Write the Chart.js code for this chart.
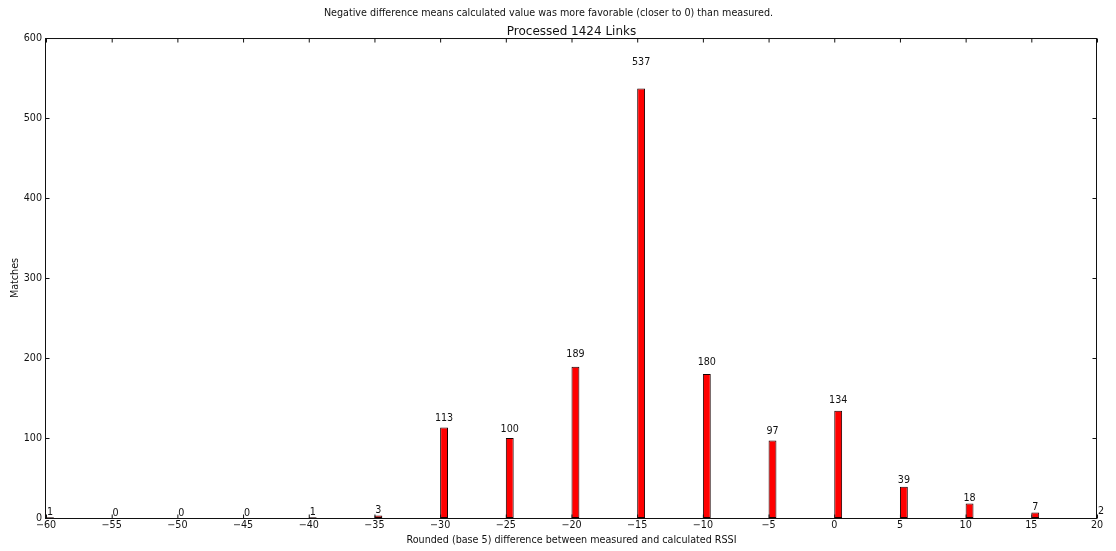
<!DOCTYPE html>
<html>
<head>
<meta charset="utf-8">
<title>RSSI difference histogram</title>
<script src="https://cdn.jsdelivr.net/npm/chart.js@4/dist/chart.umd.min.js"></script>
<style>
  html, body { margin: 0; padding: 0; background: #fff; }
  #wrap { width: 1116px; height: 551px; }
</style>
</head>
<body>
<div id="wrap"><canvas id="chart" width="1116" height="551"></canvas></div>
<script>
// Rounded (base 5) RSSI difference bins and how many links fell into each
const BINS = [-60, -55, -50, -45, -40, -35, -30, -25, -20, -15, -10, -5, 0, 5, 10, 15, 20];
const MATCHES = [1, 0, 0, 0, 1, 3, 113, 100, 189, 537, 180, 97, 134, 39, 18, 7, 2];

const X_MIN = -60, X_MAX = 20, X_STEP = 5;
const Y_MIN = 0, Y_MAX = 600, Y_STEP = 100;

const SUPTITLE = 'Negative difference means calculated value was more favorable (closer to 0) than measured.';
const TITLE = 'Processed 1424 Links';
const X_LABEL = 'Rounded (base 5) difference between measured and calculated RSSI';
const Y_LABEL = 'Matches';

// bar width in data units; bars start at their bin value
const BAR_W = 0.6;
const INK = '#111';
const FONT = 'DejaVu Sans';

Chart.defaults.font.family = FONT;
Chart.defaults.color = INK;

const minus = v => String(v).replace('-', '\u2212');

// frame around the axes plus inward tick marks on all four sides
const framePlugin = {
  id: 'frame',
  afterDatasetsDraw(chart) {
    const {ctx, chartArea: a, scales} = chart;
    const x = scales.x, y = scales.y;
    const L = a.left - 0.5, R = a.right - 0.5, T = a.top + 0.5, B = a.bottom + 0.5;
    const TL = 4;
    ctx.save();
    ctx.strokeStyle = INK;
    ctx.lineWidth = 1;
    ctx.beginPath();
    for (let v = X_MIN; v <= X_MAX; v += X_STEP) {
      // sits on the left edge of the bar that starts at this bin
      const px = x.getPixelForValue(v) + 0.5;
      ctx.moveTo(px, B); ctx.lineTo(px, B - TL);
      ctx.moveTo(px, T); ctx.lineTo(px, T + TL);
    }
    for (let v = Y_MIN; v <= Y_MAX; v += Y_STEP) {
      const py = Math.round(y.getPixelForValue(v)) + 0.5;
      ctx.moveTo(L, py); ctx.lineTo(L + TL, py);
      ctx.moveTo(R, py); ctx.lineTo(R - TL, py);
    }
    ctx.stroke();
    ctx.strokeRect(L, T, R - L, B - T);
    ctx.restore();
  }
};

// count printed above each bar, at 1.05 x its height
const valueLabels = {
  id: 'valueLabels',
  afterDraw(chart) {
    const {ctx} = chart;
    const y = chart.scales.y;
    const meta = chart.getDatasetMeta(0);
    ctx.save();
    ctx.fillStyle = INK;
    ctx.font = '9.6px "' + FONT + '"';
    ctx.textAlign = 'center';
    ctx.textBaseline = 'bottom';
    meta.data.forEach((bar, i) => {
      const v = MATCHES[i];
      ctx.fillText(String(v), bar.x, y.getPixelForValue(v * 1.05));
    });
    ctx.restore();
  }
};

new Chart(document.getElementById('chart'), {
  type: 'bar',
  data: {
    datasets: [{
      data: BINS.map((b, i) => ({x: b + BAR_W / 2, y: MATCHES[i]})),
      backgroundColor: '#ff0000',
      borderColor: '#1a0000',
      borderWidth: 1,
      borderSkipped: false,
      inflateAmount: 0,
      categoryPercentage: 1,
      barPercentage: BAR_W / X_STEP
    }]
  },
  options: {
    responsive: false,
    animation: false,
    events: [],
    layout: { padding: { left: 0, right: 19, top: 0, bottom: 0 } },
    plugins: {
      legend: { display: false },
      tooltip: { enabled: false },
      title: {
        display: true,
        text: SUPTITLE,
        color: INK,
        font: { family: FONT, size: 9.6, weight: 'normal', lineHeight: 1.2 },
        padding: { top: 7.5, bottom: 3 }
      }
    },
    scales: {
      x: {
        type: 'linear',
        position: 'bottom',
        min: X_MIN,
        max: X_MAX,
        offset: false,
        grid: { display: false, drawTicks: false, offset: false },
        border: { display: false },
        ticks: {
          stepSize: X_STEP,
          padding: 2,
          maxRotation: 0,
          autoSkip: false,
          color: INK,
          font: { family: FONT, size: 9.6 },
          callback: v => minus(v)
        },
        title: {
          display: true,
          text: X_LABEL,
          color: INK,
          font: { family: FONT, size: 9.6, lineHeight: 1.2 },
          padding: { top: 0, bottom: 4.3 }
        },
        afterFit: s => { s.height = 33; }
      },
      x2: {
        type: 'linear',
        position: 'top',
        min: X_MIN,
        max: X_MAX,
        grid: { display: false, drawTicks: false },
        border: { display: false },
        ticks: { display: false },
        title: {
          display: true,
          text: TITLE,
          color: INK,
          font: { family: FONT, size: 12, lineHeight: 1.2 },
          padding: { top: 2.5, bottom: 0 }
        },
        afterFit: s => { s.height = 16; }
      },
      y: {
        type: 'linear',
        position: 'left',
        min: Y_MIN,
        max: Y_MAX,
        grid: { display: false, drawTicks: false },
        border: { display: false },
        ticks: {
          stepSize: Y_STEP,
          padding: 4,
          color: INK,
          font: { family: FONT, size: 9.6 }
        },
        title: {
          display: true,
          text: Y_LABEL,
          color: INK,
          font: { family: FONT, size: 9.6, lineHeight: 1.2 },
          padding: { top: 9.5, bottom: 0 }
        },
        afterFit: s => { s.width = 46; }
      }
    }
  },
  plugins: [framePlugin, valueLabels]
});
</script>
</body>
</html>
